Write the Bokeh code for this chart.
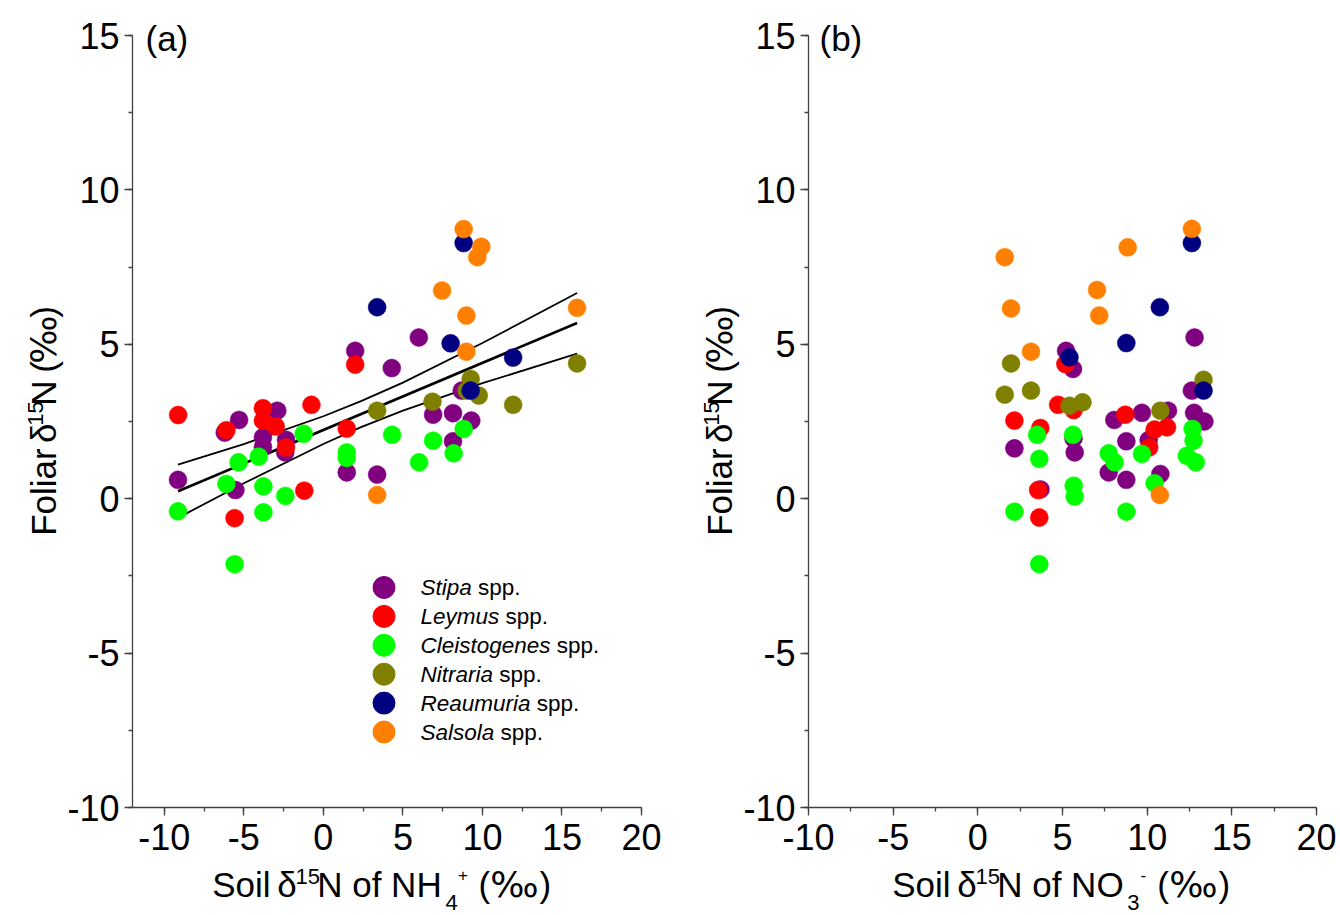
import numpy as np
from bokeh.plotting import figure
from bokeh.models import Range1d, SingleIntervalTicker, Label, CustomJSTickFormatter
from bokeh.layouts import row, column
from bokeh.embed import file_html
from bokeh.resources import INLINE

FONT = "Liberation Sans"
PERMIL_FONT = "DejaVu Sans"

species = ["Stipa", "Leymus", "Cleistogenes", "Nitraria", "Reaumuria", "Salsola"]
colors = ["#800080", "#FF0000", "#00FF00", "#808000", "#000080", "#FF8000"]

# ---------------- Panel (a): soil d15N of NH4+ ----------------
stipa_a_x = [6.0, 2.0, 4.3, -2.9, -5.3, -6.2, 6.9, -3.8, -3.8, -2.35, -2.4, 1.47, 3.38, -9.14, -5.53, 8.7, 8.15, 9.3, 8.15]
stipa_a_y = [5.22, 4.79, 4.23, 2.85, 2.55, 2.14, 2.72, 1.99, 1.67, 1.91, 1.5, 0.85, 0.78, 0.61, 0.28, 3.5, 2.77, 2.53, 1.86]
leymus_a_x = [2.0, -9.13, -0.75, -3.8, -3.8, -3.0, -6.1, 1.47, -2.35, -1.2, -5.58]
leymus_a_y = [4.34, 2.71, 3.04, 2.93, 2.53, 2.34, 2.22, 2.27, 1.66, 0.26, -0.63]
cleist_a_x = [-1.24, 4.32, 6.9, 6.02, -4.06, -5.33, 1.47, 1.47, -6.1, -3.77, -2.39, -9.14, -3.77, -5.58, 8.82, 8.19]
cleist_a_y = [2.1, 2.07, 1.88, 1.18, 1.36, 1.18, 1.5, 1.32, 0.48, 0.4, 0.09, -0.41, -0.44, -2.12, 2.26, 1.47]
nitraria_a_x = [3.38, 6.86, 15.95, 9.26, 9.77, 11.93, 9.0]
nitraria_a_y = [2.85, 3.14, 4.38, 3.88, 3.34, 3.04, 3.5]
reaum_a_x = [3.38, 8.0, 8.82, 11.93, 9.26]
reaum_a_y = [6.2, 5.03, 8.28, 4.57, 3.5]
salsola_a_x = [7.46, 3.38, 8.82, 9.93, 9.68, 8.99, 15.95, 8.99]
salsola_a_y = [6.74, 0.12, 8.73, 8.16, 7.82, 5.93, 6.18, 4.76]

# regression line and its confidence band
fit_x = [-9.14, 15.95]
fit_y = [0.24, 5.69]
ci_x = [-9.14, -5.0, 0.0, 2.33, 5.0, 10.0, 15.95]
ci_upper = [1.10, 1.77, 2.67, 3.15, 3.76, 5.04, 6.66]
ci_lower = [-0.62, 0.50, 1.77, 2.31, 2.85, 3.74, 4.70]

# ---------------- Panel (b): soil d15N of NO3- ----------------
stipa_b_x = [12.8, 5.21, 5.62, 5.72, 2.16, 3.7, 8.06, 9.69, 11.23, 10.09, 8.77, 7.73, 8.77, 10.78, 12.64, 12.77, 13.38, 5.65]
stipa_b_y = [5.22, 4.79, 4.2, 1.5, 1.63, 0.3, 2.55, 2.78, 2.85, 1.9, 1.86, 0.85, 0.61, 0.8, 3.5, 2.78, 2.5, 1.95]
leymus_b_x = [5.17, 4.74, 5.66, 2.16, 3.69, 3.56, 3.63, 8.71, 10.44, 11.17, 10.12]
leymus_b_y = [4.36, 3.04, 2.87, 2.53, 2.29, 0.28, -0.61, 2.72, 2.24, 2.31, 1.66]
cleist_b_x = [3.5, 5.62, 3.63, 5.66, 5.72, 2.16, 3.63, 9.69, 7.73, 8.08, 10.44, 8.77, 12.68, 12.74, 12.34, 12.87]
cleist_b_y = [2.07, 2.07, 1.29, 0.42, 0.07, -0.42, -2.12, 1.45, 1.47, 1.18, 0.5, -0.42, 2.26, 1.88, 1.39, 1.18]
nitraria_b_x = [1.96, 1.59, 3.14, 5.41, 6.18, 10.78, 13.33]
nitraria_b_y = [4.38, 3.37, 3.5, 3.01, 3.12, 2.85, 3.85]
reaum_b_x = [12.64, 10.75, 8.77, 5.41, 13.33]
reaum_b_y = [8.28, 6.2, 5.04, 4.58, 3.5]
salsola_b_x = [12.64, 1.59, 8.85, 7.04, 1.96, 7.17, 3.14, 10.75]
salsola_b_y = [8.74, 7.82, 8.14, 6.76, 6.16, 5.93, 4.76, 0.12]

Y_MIN, Y_MAX = -10, 15

# ---------------- layout constants (page pixels) ----------------
AXIS_TOP = 35          # pixel row of y = 15
AXIS_BOTTOM = 807      # pixel row of y = -10
ROW1_H = 864
ROW2_H = 51
AXIS_COLOR = "#404040"
MID = 0.3465           # em offset from alphabetic baseline to box middle

# Arial / Liberation Sans advance widths (per 1000 em)
WIDTHS = {" ": 278, "S": 667, "t": 278, "i": 222, "p": 556, "a": 556, "L": 556, "e": 556,
          "y": 500, "m": 833, "u": 556, "s": 500, "C": 722, "l": 222, "o": 556, "g": 556,
          "n": 556, "N": 722, "r": 333, "R": 722, ".": 278}


def text_width(s, size):
    return sum(WIDTHS.get(c, 556) for c in s) / 1000.0 * size


def make_fig(x_start, x_end, frame_w, left, right):
    px_per_unit = (AXIS_BOTTOM - AXIS_TOP) / (Y_MAX - Y_MIN)
    y_top = Y_MAX + AXIS_TOP / px_per_unit
    p = figure(frame_width=frame_w, frame_height=AXIS_BOTTOM,
               x_range=Range1d(x_start, x_end), y_range=Range1d(Y_MIN, y_top),
               output_backend="svg", toolbar_location=None,
               min_border_left=left, min_border_right=right,
               min_border_top=0, min_border_bottom=ROW1_H - AXIS_BOTTOM)
    p.extra_x_ranges = {"px": Range1d(0, frame_w)}
    p.extra_y_ranges = {"px": Range1d(0, AXIS_BOTTOM)}
    p.grid.visible = False
    p.outline_line_color = None
    p.background_fill_color = "white"
    p.border_fill_color = "white"
    p.xaxis.ticker = SingleIntervalTicker(interval=5, num_minor_ticks=2)
    p.yaxis.ticker = SingleIntervalTicker(interval=5, num_minor_ticks=2)
    p.yaxis.bounds = (Y_MIN, Y_MAX)
    fmt = CustomJSTickFormatter(code="return tick.toFixed(0);")
    for ax in (p.xaxis[0], p.yaxis[0]):
        ax.formatter = fmt
        ax.axis_line_color = AXIS_COLOR
        ax.axis_line_width = 1.3
        ax.major_tick_line_color = AXIS_COLOR
        ax.minor_tick_line_color = AXIS_COLOR
        ax.major_tick_line_width = 1.3
        ax.minor_tick_line_width = 1.3
        ax.major_tick_out = 8
        ax.major_tick_in = 0
        ax.minor_tick_out = 4
        ax.minor_tick_in = 0
        ax.major_label_text_font = FONT
        ax.major_label_text_font_size = "36px"
        ax.major_label_text_color = "black"
    p.xaxis.major_label_standoff = 8
    p.yaxis.major_label_standoff = 5
    return p


def text_fig(x0, x1, y_top, y_bottom):
    f = figure(width=int(x1 - x0), height=int(y_bottom - y_top),
               x_range=Range1d(x0, x1), y_range=Range1d(y_bottom, y_top),
               output_backend="svg", toolbar_location=None, min_border=0,
               x_axis_location=None, y_axis_location=None)
    f.grid.visible = False
    f.outline_line_color = None
    f.background_fill_color = "white"
    f.border_fill_color = "white"
    return f


def put(f, x, y, text, size, style="normal", angle=0.0, align="left", font=FONT):
    f.add_layout(Label(x=x, y=y, text=text, text_font=font, text_font_size=f"{size}px",
                       text_font_style=style, text_color="black", angle=angle,
                       text_align=align, text_baseline="middle"))


def add_xlabel(f, ion, sub, sup, xs):
    soil, delta, s15, mid, subs, sups, lpar, permil, rpar = xs
    base = 896
    put(f, soil, base - MID * 35, "Soil", 35)
    put(f, delta, base - MID * 35, "δ", 35)
    put(f, s15, 884 - MID * 22, "15", 22)
    put(f, mid, base - MID * 35, "N of " + ion, 35)
    put(f, subs, 910 - MID * 22, sub, 22)
    put(f, sups, 880 - MID * 17, sup, 17)
    put(f, lpar, base - MID * 35, "(", 35)
    put(f, permil, base - MID * 35, "‰", 36, align="center", font=PERMIL_FONT)
    put(f, rpar, base - MID * 35, ")", 35)


def add_ylabel(f, base_x, start):
    # rotated pieces, each centred on its own position along the axis
    a = np.pi / 2
    cx = base_x - MID * 35
    put(f, cx, start - 43.75, "Foliar", 35, angle=a, align="center")
    put(f, cx, start - 106.7, "δ", 35, angle=a, align="center")
    put(f, base_x - 12 - MID * 22, start - 127.7, "15", 22, angle=a, align="center")
    put(f, cx, start - 149.6, "N", 35, angle=a, align="center")
    put(f, cx, start - 177.8, "(", 35, angle=a, align="center")
    put(f, cx, start - 207.0, "‰", 36, angle=a, align="center", font=PERMIL_FONT)
    put(f, cx, start - 236.5, ")", 35, angle=a, align="center")


def scatter_all(p, groups):
    for (xs, ys), c in zip(groups, colors):
        p.scatter(xs, ys, size=18, fill_color=c, line_color=c, line_width=0.5)


def panel_tag(p, x0, text, dx):
    p.add_layout(Label(x=x0, y=Y_MIN, x_offset=dx, y_offset=AXIS_BOTTOM - 37.5, text=text,
                       text_font=FONT, text_font_size="35px", text_color="black",
                       text_align="left", text_baseline="middle"))


# ---------------- panel (a) ----------------
pa = make_fig(-12, 20, 509, 67, 40)
pa.line(ci_x, ci_upper, line_color="black", line_width=1.8)
pa.line(ci_x, ci_lower, line_color="black", line_width=1.8)
pa.line(fit_x, fit_y, line_color="black", line_width=2.6)
scatter_all(pa, [(stipa_a_x, stipa_a_y), (leymus_a_x, leymus_a_y), (cleist_a_x, cleist_a_y),
                 (nitraria_a_x, nitraria_a_y), (reaum_a_x, reaum_a_y), (salsola_a_x, salsola_a_y)])
panel_tag(pa, -12, "(a)", 13)

# legend (manual, inside panel a), positions in frame pixels from bottom-left
LEG_X = 251.5
LEG_Y0 = 220
LEG_STEP = 28.9
LEG_TEXT_X = 288
LEG_FONT = 22.5
leg_y = [LEG_Y0 - i * LEG_STEP for i in range(len(species))]
pa.scatter([LEG_X] * len(species), leg_y, size=22, fill_color=colors, line_color=colors,
           x_range_name="px", y_range_name="px")
for name, yy in zip(species, leg_y):
    for txt, dx, style in ((name, 0, "italic"), ("spp.", text_width(name + " ", LEG_FONT), "normal")):
        pa.add_layout(Label(x=-12, y=Y_MIN, x_offset=LEG_TEXT_X + dx, y_offset=yy, text=txt,
                            text_font=FONT, text_font_size=f"{LEG_FONT}px", text_font_style=style,
                            text_color="black", text_align="left", text_baseline="middle"))

# ---------------- panel (b) ----------------
pb = make_fig(-10, 20, 508, 67, 26)
scatter_all(pb, [(stipa_b_x, stipa_b_y), (leymus_b_x, leymus_b_y), (cleist_b_x, cleist_b_y),
                 (nitraria_b_x, nitraria_b_y), (reaum_b_x, reaum_b_y), (salsola_b_x, salsola_b_y)])
panel_tag(pb, -10, "(b)", 11)

# ---------------- axis titles (separate text strips) ----------------
YL_START = 570
yl_a = text_fig(0, 64, 0, ROW1_H)
add_ylabel(yl_a, 55, YL_START)
yl_b = text_fig(680, 739, 0, ROW1_H)
add_ylabel(yl_b, 729.7, YL_START)

xl = text_fig(0, 1340, ROW1_H, ROW1_H + ROW2_H)
add_xlabel(xl, "NH", "4", "+", (211.7, 276.7, 295, 316.7, 445, 457.5, 478, 514, 539))
add_xlabel(xl, "NO", "3", "-", (891.7, 956.7, 975, 996.7, 1126.7, 1140, 1156.7, 1193, 1218))

layout = column(row(yl_a, pa, yl_b, pb), xl)
open("out.html", "w").write(file_html(layout, INLINE))
